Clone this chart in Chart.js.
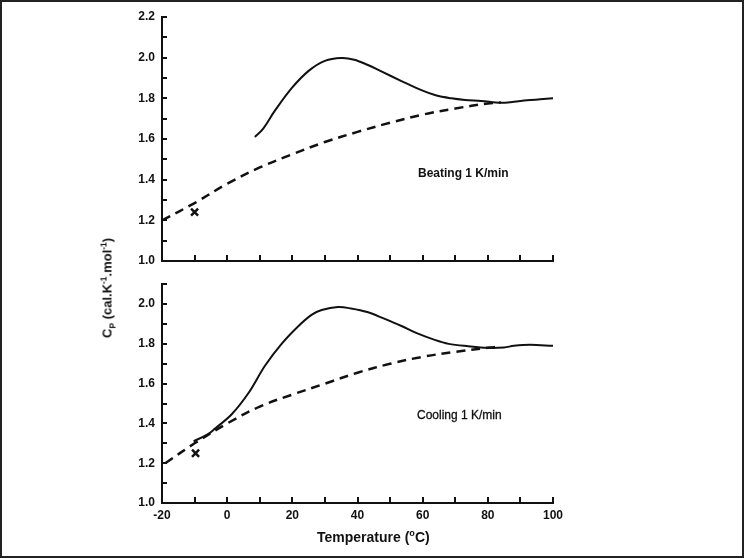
<!DOCTYPE html>
<html>
<head>
<meta charset="utf-8">
<script src="https://cdn.jsdelivr.net/npm/chart.js@4.4.1/dist/chart.umd.min.js"></script>
<style>
  html, body { margin: 0; padding: 0; background: #fff; }
  #frame { position: relative; width: 744px; height: 558px; box-sizing: border-box; border: 2px solid #222; overflow: hidden; font-family: "Liberation Sans", Arial, sans-serif; color: #111; }
  canvas { position: absolute; left: -2px; }
  .lbl { position: absolute; font-weight: bold; white-space: nowrap; }
  sub, sup { font-size: 65%; line-height: 0; }
</style>
</head>
<body>
<div id="frame">
  <canvas id="topChart" width="744" height="280" style="top:-2px"></canvas>
  <canvas id="botChart" width="744" height="288" style="top:268px"></canvas>
  <div class="lbl" style="left:416px; top:164px; font-size:12px;">Beating 1 K/min</div>
  <div class="lbl" style="left:415px; top:406px; font-size:12px; font-weight:normal; -webkit-text-stroke:0.3px #111;">Cooling 1 K/min</div>
  <div class="lbl" style="left:315px; top:527px; font-size:14px;">Temperature (<sup>o</sup>C)</div>
  <div class="lbl" style="left:105px; top:286px; font-size:13px; transform:translate(-50%,-50%) rotate(-90deg); transform-origin:50% 50%;">C<sub>P</sub> (cal.K<sup>-1</sup>.mol<sup>-1</sup>)</div>
</div>
<script>
// heating run (top panel)
var topSolidT  = [8.5, 11, 14.6, 19.8, 25, 30, 35, 39, 43, 47, 53.5, 59.6, 64, 68.8, 73, 78, 84, 88, 92, 96, 100];
var topSolidCp = [1.61, 1.65, 1.738, 1.85, 1.935, 1.984, 1.998, 1.99, 1.965, 1.935, 1.885, 1.84, 1.815, 1.80, 1.792, 1.787, 1.778, 1.783, 1.79, 1.795, 1.80];
var topDashT   = [-20, -10, 0, 10, 20, 30, 40, 50, 60, 70, 80, 84];
var topDashCp  = [1.20, 1.285, 1.38, 1.46, 1.525, 1.585, 1.635, 1.68, 1.72, 1.75, 1.775, 1.78];
var topCrossT  = [-10];
var topCrossCp = [1.24];

// cooling run (bottom panel)
var botSolidT  = [-10.3, -6, -3.8, 1.4, 6.6, 11.6, 16.7, 21.9, 25.9, 29, 34, 38, 43, 48, 53.5, 58, 63.7, 68, 74, 80, 85, 88, 93, 100];
var botSolidCp = [1.31, 1.345, 1.373, 1.446, 1.554, 1.69, 1.80, 1.89, 1.946, 1.97, 1.985, 1.978, 1.96, 1.928, 1.89, 1.855, 1.82, 1.80, 1.788, 1.78, 1.782, 1.79, 1.795, 1.79];
var botDashT   = [-19, -10, 0, 10, 20, 30, 40, 50, 60, 70, 80, 83];
var botDashCp  = [1.20, 1.30, 1.40, 1.485, 1.545, 1.60, 1.655, 1.70, 1.735, 1.76, 1.78, 1.785];
var botCrossT  = [-9.7];
var botCrossCp = [1.25];

var xMin = -20, xMax = 100;
var xLabels = [-20, 0, 20, 40, 60, 80, 100];

function pts(xs, ys) {
  var out = [];
  for (let i = 0; i < xs.length; i++) out.push({x: xs[i], y: ys[i]});
  return out;
}

// little inward tick marks on both axes
var innerTicks = {
  id: 'innerTicks',
  afterDraw(chart) {
    var ctx = chart.ctx, a = chart.chartArea;
    ctx.save();
    ctx.strokeStyle = '#111';
    ctx.lineWidth = 2;
    chart.scales.y.ticks.forEach(t => {
      var py = Math.round(chart.scales.y.getPixelForValue(t.value));
      ctx.beginPath(); ctx.moveTo(a.left, py); ctx.lineTo(a.left + 5, py); ctx.stroke();
    });
    chart.scales.x.ticks.forEach(t => {
      var px = Math.round(chart.scales.x.getPixelForValue(t.value));
      ctx.beginPath(); ctx.moveTo(px, a.bottom); ctx.lineTo(px, a.bottom - 6); ctx.stroke();
    });
    ctx.restore();
  }
};

function makeChart(id, solid, dash, cross, yMax, padTop, xHeight, showX) {
  var font = {family: '"Liberation Sans", Arial, sans-serif', size: 12, weight: 'bold'};
  return new Chart(document.getElementById(id), {
    type: 'scatter',
    data: {
      datasets: [
        {data: solid, showLine: true, borderColor: '#111', borderWidth: 2, pointRadius: 0, tension: 0.35},
        {data: dash, showLine: true, borderColor: '#111', borderWidth: 2.5, borderDash: [9, 6], pointRadius: 0, tension: 0.35},
        {data: cross, showLine: false, pointStyle: 'crossRot', pointRadius: 5, borderColor: '#111', borderWidth: 2.5}
      ]
    },
    options: {
      responsive: false,
      animation: false,
      layout: {padding: {top: padTop, right: 191, left: 0, bottom: 0}},
      plugins: {legend: {display: false}, tooltip: {enabled: false}},
      scales: {
        x: {
          type: 'linear', min: xMin, max: xMax,
          grid: {display: false, drawTicks: false},
          border: {display: true, color: '#111', width: 2},
          ticks: {
            display: showX, stepSize: 10, autoSkip: false, padding: 5, color: '#111', font: font,
            callback: v => xLabels.indexOf(v) >= 0 ? String(v) : ''
          },
          afterFit: s => { s.height = xHeight; }
        },
        y: {
          min: 1.0, max: yMax,
          grid: {display: false, drawTicks: false},
          border: {display: true, color: '#111', width: 2},
          ticks: {
            stepSize: 0.1, autoSkip: false, padding: 7, color: '#111', font: font,
            callback: v => Math.round(v * 10) % 2 === 0 ? v.toFixed(1) : ''
          },
          afterFit: s => { s.width = 162; }
        }
      }
    },
    plugins: [innerTicks]
  });
}

makeChart('topChart', pts(topSolidT, topSolidCp), pts(topDashT, topDashCp), pts(topCrossT, topCrossCp), 2.2, 17, 19, false);
makeChart('botChart', pts(botSolidT, botSolidCp), pts(botDashT, botDashCp), pts(botCrossT, botCrossCp), 2.1, 11, 55, true);
</script>
</body>
</html>
